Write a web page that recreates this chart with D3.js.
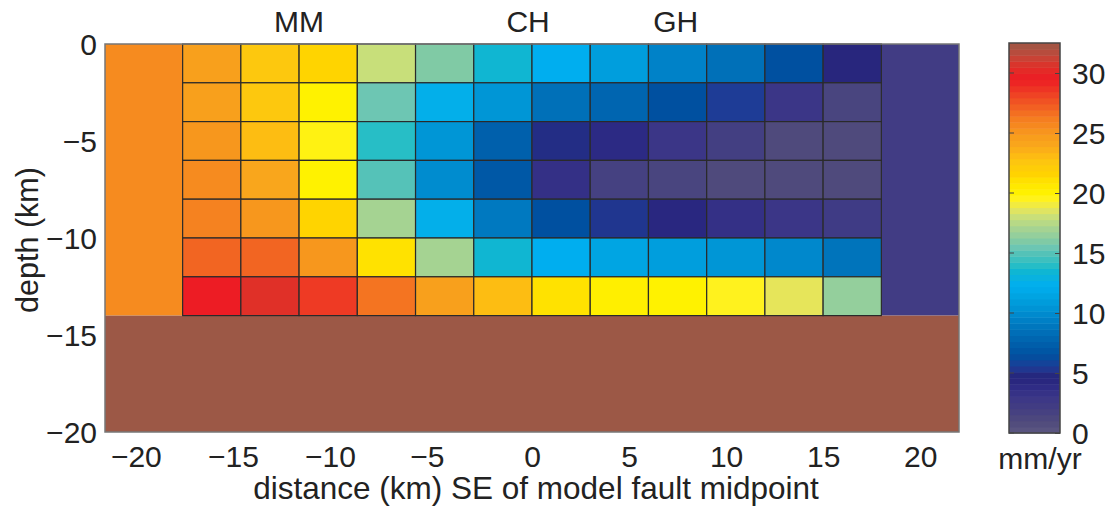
<!DOCTYPE html>
<html>
<head>
<meta charset="utf-8">
<script src="https://cdn.jsdelivr.net/npm/d3@7"></script>
<style>
  body { margin: 0; background: #fff; }
  text { font-family: "Liberation Sans", Arial, sans-serif; fill: #222; }
</style>
</head>
<body>
<div id="chart"></div>
<script>
// Patch edges (km) and slip rates (mm/yr), rows from surface down
const patchEdgesX = [-18, -15, -12, -9, -6, -3, 0, 3, 6, 9, 12, 15, 18];
const patchEdgesDepth = [0, -2, -4, -6, -8, -10, -12, -14];
const slipRates = [
  [24.5, 22.5, 21.5, 18, 16, 13.5, 12.3, 11, 9.5, 8.5, 6.5, 4.5],
  [24.5, 22.5, 20, 15.5, 12.5, 10.5, 8.5, 7.8, 6.5, 5.5, 3, 1.5],
  [25, 23, 19.7, 14, 10.5, 7.5, 5, 4, 3, 2, 1, 1],
  [25.5, 24, 20, 15, 10, 7, 3.5, 1.8, 1.5, 1, 1, 1],
  [26, 25, 21.5, 17, 12.5, 9, 6.5, 5.3, 4.3, 3.5, 3, 2.5],
  [27, 27, 25, 21, 17, 13.5, 12.3, 11.5, 11, 10.5, 9.8, 8.7],
  [29.5, 30.5, 28.5, 26.5, 24.5, 23, 21, 20.2, 20, 19.5, 18.7, 16.5]
];
// outer blocks: [x0, x1, top, bottom, rate]
const sideBlocks = [
  [-22, -18, 0, -14, 25.5],
  [18, 22, 0, -14, 2.3],
  [-22, 22, -14, -20, 32.5]
];

const stationNames = ['MM', 'CH', 'GH'];
const stationX = [-12, -0.2, 7.4];

const xTicks = [-20, -15, -10, -5, 0, 5, 10, 15, 20];
const yTicks = [0, -5, -10, -15, -20];
const cbTicks = [0, 5, 10, 15, 20, 25, 30];

// colormap stops
const cmapValues = [0, 1, 2, 3, 4, 4.7, 5.5, 6.5, 7.5, 8.5, 9.5, 10.5, 11.5, 12.3, 13.5, 14, 15, 15.5, 16, 16.5, 17, 18, 18.7, 19.5, 20, 21, 21.5, 22.5, 23, 24, 24.5, 25, 25.5, 26, 26.5, 27, 28.5, 29.5, 30.5, 31.5, 32.5];
const cmapColors = ['#5d5782', '#4f4a7c', '#433f82', '#3b3687', '#2c2a84', '#26247a', '#1e3c96', '#0050a0', '#0060ac', '#0070b8', '#0082c8', '#0096d6', '#00a5e3', '#00aeef', '#10b6d2', '#27bec6', '#55c2b8', '#6dc6b3', '#80caa5', '#94cf9c', '#a5d392', '#c8df7a', '#e6e55a', '#fff21e', '#fff200', '#ffe200', '#ffd400', '#fdc80e', '#fdbd12', '#f9a61c', '#f8a01c', '#f7971d', '#f68b1f', '#f58220', '#f47421', '#f26522', '#ee3a24', '#ed1c24', '#e03028', '#c0483a', '#9c5846'];

const width = 1107, height = 510;
const plot = { left: 105, right: 959, top: 44, bottom: 432 };
const cb = { left: 1009, right: 1060, top: 43, bottom: 433 };

const svg = d3.select('#chart').append('svg')
  .attr('width', width)
  .attr('height', height);

const x = d3.scaleLinear().domain([-22, 22]).range([plot.left, plot.right]);
const y = d3.scaleLinear().domain([-20, 0]).range([plot.bottom, plot.top]);
const color = d3.scaleLinear().domain(cmapValues).range(cmapColors).interpolate(d3.interpolateRgb);
const fmt = d => d3.format('d')(d).replace('-', '\u2212');

// outer blocks
svg.selectAll('.block')
  .data(sideBlocks)
  .enter()
  .append('rect')
  .attr('class', 'block')
  .attr('x', d => x(d[0]))
  .attr('y', d => y(d[2]))
  .attr('width', d => x(d[1]) - x(d[0]))
  .attr('height', d => y(d[3]) - y(d[2]))
  .attr('fill', d => color(d[4]));

// fault patches
const cells = [];
slipRates.forEach((row, i) => {
  row.forEach((v, j) => {
    cells.push({
      x0: patchEdgesX[j], x1: patchEdgesX[j + 1],
      top: patchEdgesDepth[i], bottom: patchEdgesDepth[i + 1], v
    });
  });
});

svg.selectAll('.cell')
  .data(cells)
  .enter()
  .append('rect')
  .attr('class', 'cell')
  .attr('x', d => x(d.x0))
  .attr('y', d => y(d.top))
  .attr('width', d => x(d.x1) - x(d.x0))
  .attr('height', d => y(d.bottom) - y(d.top))
  .attr('fill', d => color(d.v))
  .attr('stroke', '#2a2a2a')
  .attr('stroke-width', 1.2);

// axes box
svg.append('rect')
  .attr('x', plot.left)
  .attr('y', plot.top)
  .attr('width', plot.right - plot.left)
  .attr('height', plot.bottom - plot.top)
  .attr('fill', 'none')
  .attr('stroke', '#777')
  .attr('stroke-width', 1.5);

// x axis (negative labels sit a little left, like the original)
const xAxis = svg.append('g')
  .attr('transform', `translate(0,${plot.bottom})`)
  .call(d3.axisBottom(x).tickValues(xTicks).tickSize(0).tickPadding(0).tickFormat(fmt));
xAxis.select('.domain').remove();
xAxis.selectAll('text')
  .attr('y', 35)
  .attr('dy', 0)
  .attr('dx', d => d < 0 ? -8 : 0)
  .style('font-size', '30px')
  .style('fill', '#222');

// y axis
const yAxis = svg.append('g')
  .attr('transform', `translate(${plot.left},0)`)
  .call(d3.axisLeft(y).tickValues(yTicks).tickSize(0).tickPadding(8).tickFormat(fmt));
yAxis.select('.domain').remove();
yAxis.selectAll('text')
  .attr('dy', '0.36em')
  .style('font-size', '30px')
  .style('fill', '#222');

// axis titles
svg.append('text')
  .attr('x', 536)
  .attr('y', 499)
  .attr('text-anchor', 'middle')
  .style('font-size', '31.5px')
  .text('distance (km) SE of model fault midpoint');

svg.append('text')
  .attr('transform', 'translate(38,240) rotate(-90)')
  .attr('text-anchor', 'middle')
  .style('font-size', '30.5px')
  .text('depth (km)');

// station labels
svg.selectAll('.station')
  .data(stationNames)
  .enter()
  .append('text')
  .attr('class', 'station')
  .attr('x', (d, i) => x(stationX[i]))
  .attr('y', 32)
  .attr('text-anchor', 'middle')
  .style('font-size', '30px')
  .text(d => d);

// colorbar
const cy = d3.scaleLinear().domain([0, 32.5]).range([cb.bottom, cb.top]);
const nBands = 64;
const bandStep = 32.5 / nBands;
svg.selectAll('.band')
  .data(d3.range(nBands))
  .enter()
  .append('rect')
  .attr('class', 'band')
  .attr('x', cb.left)
  .attr('width', cb.right - cb.left)
  .attr('y', i => cy((i + 1) * bandStep))
  .attr('height', i => cy(i * bandStep) - cy((i + 1) * bandStep) + 0.5)
  .attr('fill', i => color((i + 0.5) * bandStep));

svg.append('rect')
  .attr('x', cb.left)
  .attr('y', cb.top)
  .attr('width', cb.right - cb.left)
  .attr('height', cb.bottom - cb.top)
  .attr('fill', 'none')
  .attr('stroke', '#444')
  .attr('stroke-width', 1.5);

const cbAxis = svg.append('g')
  .attr('transform', `translate(${cb.right},0)`)
  .call(d3.axisRight(cy).tickValues(cbTicks).tickSize(-5).tickPadding(12));
cbAxis.select('.domain').remove();
cbAxis.selectAll('line').attr('stroke', '#444');
cbAxis.selectAll('text')
  .attr('dy', '0.34em')
  .style('font-size', '30px')
  .style('fill', '#222');

svg.selectAll('.cbtick-left')
  .data(cbTicks)
  .enter()
  .append('line')
  .attr('x1', cb.left)
  .attr('x2', cb.left + 5)
  .attr('y1', d => cy(d))
  .attr('y2', d => cy(d))
  .attr('stroke', '#444');

svg.append('text')
  .attr('x', 1040)
  .attr('y', 469)
  .attr('text-anchor', 'middle')
  .style('font-size', '30px')
  .text('mm/yr');
</script>
</body>
</html>
